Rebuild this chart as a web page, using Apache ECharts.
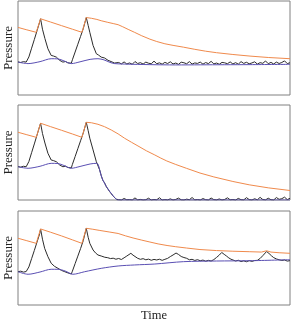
<!DOCTYPE html>
<html><head><meta charset="utf-8">
<script src="https://cdn.jsdelivr.net/npm/echarts@6/dist/echarts.min.js"></script>
<style>html,body{margin:0;padding:0;background:#fff}#c{width:291px;height:324px}</style>
</head><body><div id="c"></div>
<script>
// Panel 1
const p1Orange=[[0,71.9],[3,69.5],[6.7,66.7],[8.3,81.1],[12,77.6],[16,73.8],[20,70],[23.5,66.7],[25.1,82.4],[27,81.6],[29,80.4],[30.6,79],[33,77.3],[35,76],[36.8,74.8],[38.5,72.6],[40.5,69.8],[42.9,66.6],[45.5,63],[48.5,59.4],[51,56.9],[54,54.5],[57,52.8],[60.8,50.9],[65,48.6],[69,46.6],[73,45],[79,43.1],[85.3,41.4],[92,39.9],[100,38.6]];
const p1Black=[[0,35.2],[1,34.6],[2,35.5],[3,35],[4,40.5],[5,49.8],[6,59],[7,68.4],[8,78],[8.3,81.1],[9,70],[9.9,60],[11,49.2],[12.2,42.1],[13,41.5],[14.1,40.3],[15.3,36.9],[16,36.5],[16.5,35],[17.5,35.6],[18.3,34.2],[19,34],[19.6,33.8],[20,37.5],[21,45.7],[22,54],[23,62.3],[24,70.6],[25.1,82.4],[25.8,74],[26.4,66.7],[27.6,52.7],[28.8,43.9],[29.6,42.5],[30.6,40.3],[31.8,39.4],[33.1,36.9],[34.2,35.6],[35.5,34],
[36,33.2],[37,34.6],[38,33.1],[39,35.2],[40,33.0],[41,34.1],[42,32.7],[43,35.6],[44,33.5],[45,34.4],[46,32.9],[47,35.0],[48,33.8],[49,33.2],[50,36.0],[51,33.3],[52,34.2],[53,32.8],[54,34.7],[55,33.5],[56,35.3],[57,33.0],[58,34.0],[59,32.6],[60,34.9],[61,34.3],[62,33.2],[63,35.5],[64,32.9],[65,34.1],[66,33.6],[67,35.0],[68,32.8],[69,34.5],[70,33.4],[71,35.8],[72,33.1],[73,34.0],[74,32.7],[75,34.7],[76,34.2],[77,33.3],[78,35.2],[79,33.0],[80,34.4],[81,32.8],[82,35.5],[83,33.6],[84,34.8],[85,33.2],[86,34.1],[87,35.3],[88,32.9],[89,34.4],[90,33.7],[91,36.2],[92,33.3],[93,34.7],[94,33.0],[95,35.0],[96,33.5],[97,34.6],[98,36.3],[99,33.4],[100,34.3]];
const p1Purple=[[0,35],[3.7,33.4],[8.1,35.5],[12.2,38.6],[14.7,38.4],[16.9,36.3],[19.6,33.4],[22.8,35.3],[26.5,37.9],[29.4,38.6],[31.6,37.4],[33.8,34.7],[35.5,33.4],[39.3,32.9],[48.5,32.3],[58,32],[67,32.1],[76,32.2],[85.3,32.3],[100,32.6]];
// Panel 2
const p2Orange=[[0,71.3],[3,68.9],[6.7,66],[8.3,80.8],[12,77.2],[16,73.4],[20,69.5],[23.5,66],[25.1,81.8],[27,81.3],[29.4,79.7],[31.8,77.2],[34.3,73.7],[36.8,69.6],[39.2,65],[41.7,60.8],[44.1,56.9],[47.2,51.8],[50.3,47.4],[52.5,44.1],[54.7,41.1],[58,37.4],[62,33.3],[66.9,28.4],[72,24.3],[79,19.5],[85,16],[92,12.8],[100,10]];
const p2Black=[[0,35.2],[1,34.6],[2,35.5],[3,35],[4,40.5],[5,49.8],[6,59],[7,68.4],[8,78],[8.3,80.8],[9,70],[9.9,60],[11,49.2],[12.2,42.1],[13,41.5],[14.1,40.3],[15.3,36.9],[16,36.5],[16.5,35],[17.5,35.6],[18.3,34.2],[19,34],[19.6,33.8],[20,37.5],[21,45.7],[22,54],[23,62.3],[24,70.6],[25.1,81.8],[25.8,73],[26.4,65],[27.6,52.7],[28.8,40.3],[29.4,38.2],[30,31.8],[30.6,25.8],[31.2,20.6],[31.8,18.2],[32.5,13.9],[33.1,11.9],[33.7,8.8],[34.3,7.3],[34.9,4.4],[35.5,2.9],[36.1,0.9],[36.6,0.2],
[37,0.3],[38,0],[39,1.6],[40,0.2],[41,0.4],[42,0],[43,2.2],[44,0.1],[45,0.6],[46,0],[47,0.3],[48,1.9],[49,0],[50,0.5],[51,0.2],[52,2.4],[53,0],[54,0.4],[55,0.1],[56,1.2],[57,0],[58,0.6],[59,2.0],[60,0.2],[61,0],[62,0.9],[63,0.3],[64,2.6],[65,0.1],[66,0.5],[67,0],[68,1.5],[69,0.3],[70,0],[71,2.1],[72,0.4],[73,0.1],[74,1.1],[75,0],[76,0.6],[77,2.3],[78,0.2],[79,0.5],[80,0],[81,1.7],[82,0.3],[83,0.1],[84,2.5],[85,0.4],[86,0],[87,1.3],[88,0.2],[89,2.8],[90,0.5],[91,0.1],[92,1.9],[93,0.3],[94,0],[95,2.6],[96,0.7],[97,1.4],[98,3.0],[99,0.4],[100,1.8]];
const p2Purple=[[0,35],[3.7,33.4],[8.1,35.5],[12.2,38.6],[14.7,38.4],[16.9,36.3],[19.6,33.4],[22.8,35.3],[26.5,37.9],[28.8,38.6],[29.4,37.8],[30,32],[30.6,25.3],[31.2,21],[31.8,17.8],[32.5,14],[33.1,11.6],[33.7,9],[34.3,7],[34.9,4.6],[35.5,2.6],[36.1,0.8],[36.6,0],[100,0]];
// Panel 3
const p3Orange=[[0,71],[3,68.6],[6.7,65.6],[8.3,80.9],[12,77.4],[16,73.5],[20,69.3],[23.5,65.6],[25.1,81.6],[27.5,80.6],[30.1,79.3],[33.5,77.7],[36.8,76.1],[39.5,73.6],[42.3,71.3],[45.5,69],[48.5,67],[51.5,65],[54.8,63.3],[58,62],[62,60.6],[66.9,59],[73,57.9],[79,57.2],[85,56.7],[89.5,56.3],[91.4,57.7],[93,56.3],[96,55.6],[100,55]];
const p3Black=[[0,35.4],[1,36],[2,35],[3,35.6],[3.4,35.2],[4,40.5],[5,49.3],[6,58],[7,67],[8,76],[8.3,80.9],[9,70],[9.8,60.3],[11,51.4],[12.2,44.4],[13.4,41.2],[14.7,39],[16,36.8],[17.2,35.4],[18.4,34.1],[19.6,33],[20,36],[21,44],[22,52],[23,60],[24,68.5],[25.1,81.6],[25.8,72],[26.4,65.6],[27.6,58.5],[28.5,55.4],[29.4,53.2],[30.6,52.1],[31.9,50.8],[33,50.3],[34,49.4],[35,49.8],[36,48.7],[37,49.5],[38,48.4],
[39,50.2],[40,52.1],[40.7,53.4],[41.5,55],[42.3,53],[43,51.2],[44,49.7],[45,48.6],[46,49.3],[47,48.1],[48,48.8],[49,47.6],[50,48.5],[51,47.9],[52,48.7],[53,47.5],[54,48.6],
[55,49.6],[56,51.5],[57,53.2],[58.1,55.3],[59,53.8],[60,51.6],[61,50.5],[62,49.7],[63,48.1],[64,48.6],[65,47.4],[66,48.2],[67,47.1],[68,47.8],[69,46.6],[70,47.5],[71,46.8],[72,48.3],
[73,50.6],[74,53.1],[74.9,55.9],[75.8,53.9],[76.6,52.2],[77.5,50.1],[78.3,48.7],[79,47.9],[80,46.8],[81,47.6],[82,46.2],[83,47.0],[84,46.0],[85,47.2],[86,46.4],[87,47.3],[88,47.5],[89,49.5],[90,52.5],[91.4,56.9],[92.3,54.8],[93.2,52.3],[94,50.4],[95,49],[96,48.1],[97,47.4],[98,47.9],[99,46.7],[100,47.2]];
const p3Purple=[[0,35.4],[3.7,32.7],[8.1,35.1],[12.2,38],[14.7,38],[17.3,36.2],[20.2,32.7],[24.5,35.4],[30.6,39],[36.8,41.5],[42.9,42.6],[50.3,43.6],[60.8,46.1],[73,46.8],[85.3,47.1],[100,48.2]];

const yLabel='Pressure';
const xLabel='Time';
const panels=[[p1Black,p1Purple,p1Orange],[p2Black,p2Purple,p2Orange],[p3Black,p3Purple,p3Orange]];

const chart=echarts.init(document.getElementById('c'),null,{renderer:'canvas'});
const gridPos=[{top:1,height:94},{top:105,height:95},{top:211,height:94}];
const FONT='Liberation Serif';
const colors={black:'#2b2b2b',purple:'#5a4fb3',orange:'#f08a4c'};
const grid=gridPos.map(g=>({left:18,right:1,top:g.top,height:g.height,show:true,containLabel:false,outerBoundsMode:'none',borderColor:'#808080',borderWidth:1,backgroundColor:'transparent'}));
const xAxis=gridPos.map((g,i)=>({gridIndex:i,type:'value',min:0,max:100,axisLine:{show:false},axisTick:{show:false},axisLabel:{show:false},splitLine:{show:false},
  name:i===2?xLabel:'',nameLocation:'middle',nameGap:4,nameTextStyle:{fontFamily:FONT,fontSize:12.5,color:'#222',verticalAlign:'top'}}));
const yAxis=gridPos.map((g,i)=>({gridIndex:i,type:'value',min:0,max:100,axisLine:{show:false},axisTick:{show:false},axisLabel:{show:false},splitLine:{show:false},
  name:yLabel,nameLocation:'middle',nameGap:3,nameTextStyle:{fontFamily:FONT,fontSize:13,color:'#222'}}));
const series=[];
panels.forEach((p,i)=>{
  series.push({type:'line',xAxisIndex:i,yAxisIndex:i,data:p[0],showSymbol:false,lineStyle:{color:colors.black,width:1},z:2});
  series.push({type:'line',xAxisIndex:i,yAxisIndex:i,data:p[1],showSymbol:false,smooth:0.3,lineStyle:{color:colors.purple,width:1},z:3});
  series.push({type:'line',xAxisIndex:i,yAxisIndex:i,data:p[2],showSymbol:false,lineStyle:{color:colors.orange,width:1},z:4});
});
chart.setOption({animation:false,backgroundColor:'#fff',grid,xAxis,yAxis,series});
</script></body></html>
